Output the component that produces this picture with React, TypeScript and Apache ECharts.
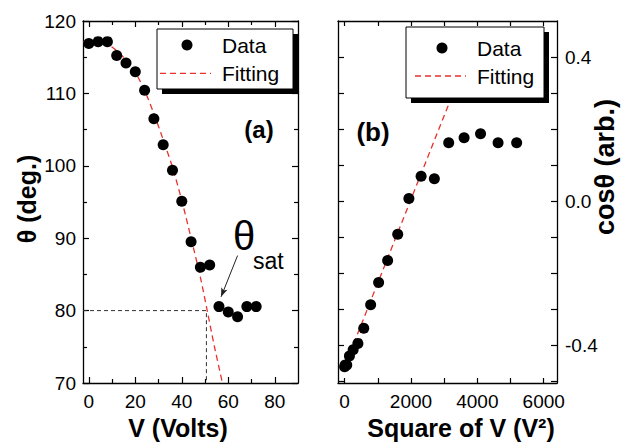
import React, { useEffect, useRef } from "react";
import * as echarts from "echarts";

// ---- Data ----
const voltage = [0, 4, 8, 12, 16, 20, 24, 28, 32, 36, 40, 44, 48, 52, 56, 60, 64, 68, 72];
const theta = [116.9, 117.15, 117.15, 115.25, 114.2, 113.0, 110.45, 106.5, 102.9, 99.4, 95.1, 89.5, 86.0, 86.3, 80.55, 79.8, 79.15, 80.55, 80.55];

const fitV = [-2.5, 0, 4, 8, 12, 16, 20, 24, 28, 32, 36, 40, 44, 48, 51, 54, 57.5];
const fitTheta = [117.1, 117.3, 117.2, 116.8, 115.9, 114.6, 112.9, 110.4, 107.2, 103.6, 99.8, 95.2, 90.0, 84.6, 79.9, 75.1, 70];

const guideV = [-2.5, 50.6, 50.6];
const guideTheta = [80, 80, 70];

const arrowFrom = [64.0, 87.6];
const arrowTo = [56.9, 81.9];

const vSquared = [0, 16, 64, 144, 256, 400, 576, 784, 1024, 1296, 1600, 1936, 2304, 2704, 3136, 3600, 4096, 4624, 5184];
const cosTheta = [-0.46, -0.455, -0.455, -0.43, -0.413, -0.395, -0.353, -0.288, -0.226, -0.165, -0.092, 0.007, 0.069, 0.062, 0.162, 0.176, 0.187, 0.162, 0.162];

// visible part of the linear fit (the rest is hidden behind the legend box)
const fitV2 = [-60, 3150];
const fitCos = [-0.473, 0.272];

const leftXLabels = [0, 20, 40, 60, 80];
const leftXMajor = [0, 20, 40, 60, 80];
const leftXMinor = [10, 30, 50, 70];
const rightXTicks = [0, 1000, 2000, 3000, 4000, 5000, 6000];
const rightXLabels = [0, 2000, 4000, 6000];
const rightYTicks = [-0.5, -0.4, -0.3, -0.2, -0.1, 0, 0.1, 0.2, 0.3, 0.4];
const rightYLabels = [-0.4, 0, 0.4];

const FONT = '"Liberation Sans", Arial, Helvetica, sans-serif';
const RED = "#e8312b";

function zip(a: number[], b: number[]) {
  return a.map((v, i) => [v, b[i]]);
}

function axis(extra: any, tick: any = {}, label: any = { show: false }, line = true) {
  return {
    type: "value",
    splitLine: { show: false },
    axisLine: { show: line, onZero: false, lineStyle: { color: "#000", width: 1.3 } },
    axisTick: { show: true, inside: true, length: 5, lineStyle: { color: "#000", width: 1.2 }, ...tick },
    axisLabel: {
      color: "#000",
      fontSize: 19,
      fontFamily: FONT,
      formatter: (v: number) => String(v),
      ...label,
    },
    ...extra,
  };
}

function legendGroup(x: number, y: number, w: number, h: number, circY: number, lineY: number, iconX: number, textX: number) {
  return [
    { type: "rect", z: 100, shape: { x: x + 5, y: y + 5, width: w, height: h }, style: { fill: "#000" } },
    { type: "rect", z: 101, shape: { x, y, width: w, height: h }, style: { fill: "#fff", stroke: "#000", lineWidth: 1 } },
    { type: "circle", z: 102, shape: { cx: iconX, cy: circY, r: 5.5 }, style: { fill: "#000" } },
    {
      type: "line",
      z: 102,
      shape: { x1: iconX - 27, y1: lineY, x2: iconX + 24, y2: lineY },
      style: { stroke: RED, lineWidth: 1.3, lineDash: [6, 4] },
    },
    { type: "text", z: 102, style: { x: textX, y: circY, text: "Data", font: `21px ${FONT}`, fill: "#000", verticalAlign: "middle" } },
    { type: "text", z: 102, style: { x: textX, y: lineY, text: "Fitting", font: `21px ${FONT}`, fill: "#000", verticalAlign: "middle" } },
  ];
}

export default function App() {
  const ref = useRef<HTMLDivElement>(null);
  useEffect(() => {
    if (!ref.current) return;
    const chart = echarts.init(ref.current, null, { renderer: "svg" });
    const option: any = {
      animation: false,
      backgroundColor: "#fff",
      textStyle: { fontFamily: FONT },
      grid: [
        { left: 83, top: 21, width: 215, height: 362 },
        { left: 338, top: 21, width: 219, height: 362 },
      ],
      xAxis: [
        axis(
          { gridIndex: 0, position: "bottom", min: -2.5, max: 90 },
          { length: 6, customValues: leftXMajor },
          { show: true, margin: 9, customValues: leftXLabels }
        ),
        axis({ gridIndex: 0, position: "bottom", min: -2.5, max: 90 }, { length: 4, customValues: leftXMinor }, { show: false }, false),
        axis({ gridIndex: 0, position: "top", min: -2.5, max: 90 }, { length: 6, customValues: leftXMajor }),
        axis({ gridIndex: 0, position: "top", min: -2.5, max: 90 }, { length: 4, customValues: leftXMinor }, { show: false }, false),
        axis(
          { gridIndex: 1, position: "bottom", min: -200, max: 6400 },
          { length: 5, customValues: rightXTicks },
          { show: true, margin: 9, customValues: rightXLabels }
        ),
        axis({ gridIndex: 1, position: "top", min: -200, max: 6400 }, { length: 5, customValues: rightXTicks }),
      ],
      yAxis: [
        axis(
          {
            gridIndex: 0, position: "left", min: 70, max: 120, interval: 10,
            minorTick: { show: true, splitNumber: 2, length: 4, lineStyle: { color: "#000", width: 1.2 } },
          },
          { length: 6 },
          { show: true, margin: 7 }
        ),
        axis(
          {
            gridIndex: 0, position: "right", min: 70, max: 120, interval: 10,
            minorTick: { show: true, splitNumber: 2, length: 4, lineStyle: { color: "#000", width: 1.2 } },
          },
          { length: 6 }
        ),
        axis(
          { gridIndex: 1, position: "right", min: -0.505, max: 0.5 },
          { length: 6, customValues: rightYTicks },
          { show: true, margin: 8, customValues: rightYLabels, formatter: (v: number) => v.toFixed(1) }
        ),
        axis({ gridIndex: 1, position: "left", min: -0.505, max: 0.5 }, { length: 6, customValues: rightYTicks }),
      ],
      series: [
        {
          name: "Fitting",
          type: "line",
          xAxisIndex: 0,
          yAxisIndex: 0,
          data: zip(fitV, fitTheta),
          smooth: 0.3,
          showSymbol: false,
          clip: true,
          lineStyle: { color: RED, width: 1.3, type: [6, 4] },
          z: 3,
        },
        {
          name: "Guide",
          type: "line",
          xAxisIndex: 0,
          yAxisIndex: 0,
          data: zip(guideV, guideTheta),
          showSymbol: false,
          lineStyle: { color: "#333", width: 1, type: [4, 3] },
          z: 2,
        },
        {
          name: "Data",
          type: "scatter",
          xAxisIndex: 0,
          yAxisIndex: 0,
          data: zip(voltage, theta),
          symbolSize: 11,
          itemStyle: { color: "#000", opacity: 1 },
          z: 4,
          markLine: {
            silent: true,
            symbol: ["none", "arrow"],
            symbolSize: [5, 9],
            label: { show: false },
            lineStyle: { color: "#222", width: 1, type: "solid" },
            data: [[{ coord: arrowFrom }, { coord: arrowTo }]],
          },
        },
        {
          name: "Fitting",
          type: "line",
          xAxisIndex: 4,
          yAxisIndex: 2,
          data: zip(fitV2, fitCos),
          showSymbol: false,
          lineStyle: { color: RED, width: 1.3, type: [6, 4] },
          z: 3,
        },
        {
          name: "Data",
          type: "scatter",
          xAxisIndex: 4,
          yAxisIndex: 2,
          data: zip(vSquared, cosTheta),
          symbolSize: 11,
          itemStyle: { color: "#000", opacity: 1 },
          z: 4,
        },
      ],
      graphic: {
        elements: [
          ...legendGroup(157, 29, 136, 60, 45, 73.3, 187, 222),
          ...legendGroup(406, 27, 138, 71, 48, 76, 442, 477),
          { type: "text", z: 50, style: { x: 259, y: 129, text: "(a)", font: `bold 24px ${FONT}`, fill: "#000", align: "center", verticalAlign: "middle" } },
          { type: "text", z: 50, style: { x: 373, y: 132, text: "(b)", font: `bold 26px ${FONT}`, fill: "#000", align: "center", verticalAlign: "middle" } },
          { type: "text", z: 50, style: { x: 244, y: 236, text: "θ", font: `40px ${FONT}`, fill: "#000", align: "center", verticalAlign: "middle" } },
          { type: "text", z: 50, style: { x: 253, y: 261, text: "sat", font: `23px ${FONT}`, fill: "#000", align: "left", verticalAlign: "middle" } },
          { type: "text", z: 50, style: { x: 178, y: 428, text: "V (Volts)", font: `bold 25px ${FONT}`, fill: "#000", align: "center", verticalAlign: "middle" } },
          { type: "text", z: 50, style: { x: 461, y: 428, text: "Square of V (V²)", font: `bold 25px ${FONT}`, fill: "#000", align: "center", verticalAlign: "middle" } },
          {
            type: "text", z: 50, x: 27, y: 199, rotation: Math.PI / 2,
            style: { x: 0, y: 0, text: "θ (deg.)", font: `bold 25px ${FONT}`, fill: "#000", align: "center", verticalAlign: "middle" },
          },
          {
            type: "text", z: 50, x: 605, y: 167, rotation: Math.PI / 2,
            style: { x: 0, y: 0, text: "cosθ (arb.)", font: `bold 27px ${FONT}`, fill: "#000", align: "center", verticalAlign: "middle" },
          },
        ],
      },
    };
    chart.setOption(option);
    return () => chart.dispose();
  }, []);
  return <div ref={ref} style={{ position: "absolute", left: 0, top: 0, width: 621, height: 445, background: "#fff" }} />;
}
